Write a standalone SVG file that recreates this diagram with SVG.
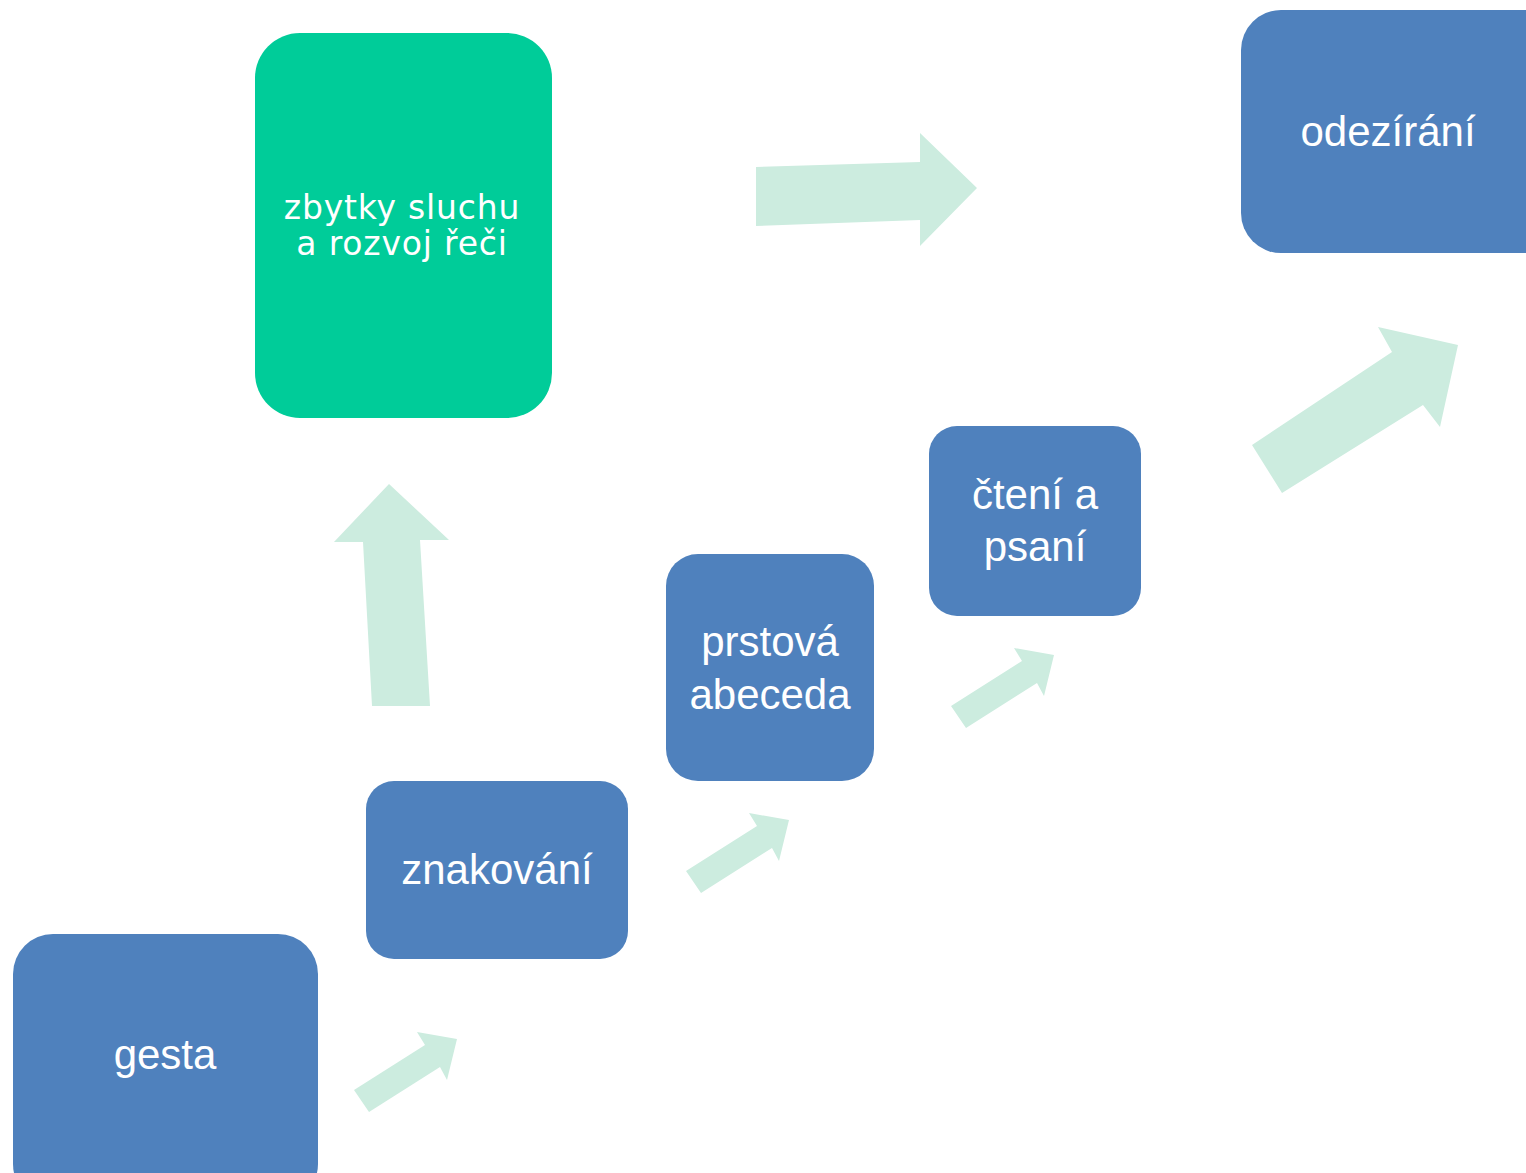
<svg xmlns="http://www.w3.org/2000/svg" width="1526" height="1173" viewBox="0 0 1526 1173">
<style>
.box{fill:#4F81BD}
.green{fill:#00CC99}
.arr{fill:#CCECDF}
.t{font-family:"Liberation Sans",Arial,sans-serif;font-size:42px;fill:#FFFFFF;text-anchor:middle}
.tg{font-family:"DejaVu Sans",Verdana,sans-serif;font-size:33px;letter-spacing:0.8px;fill:#FFFFFF;text-anchor:middle}
</style>
<rect width="1526" height="1173" fill="#FFFFFF"/>
<g id="connectors">
<polygon class="arr" points="756,167 920,162 920,133 977,188 920,246 920,220 756,226"/>
<polygon class="arr" points="372,706 430,706 420,540 449,540 389,484 334,542 363,542"/>
<polygon class="arr" points="1252,445 1392,352 1378,327 1458,345 1440,427 1423,405 1282,493"/>
<polygon class="arr" points="354,1090 425,1045 417,1032 457,1039 447,1080 440,1067 369,1112"/>
<polygon class="arr" points="686,871 757,826 749,813 789,820 779,861 772,848 701,893"/>
<polygon class="arr" points="951,706 1022,661 1014,648 1054,655 1044,696 1037,683 966,728"/>
</g>
<g id="node-gesta">
<rect class="box" x="13" y="934" width="305" height="270" rx="40"/>
<text class="t" x="165" y="1069">gesta</text>
</g>
<g id="node-znakovani">
<rect class="box" x="366" y="781" width="262" height="178" rx="28"/>
<text class="t" x="497" y="884">znakování</text>
</g>
<g id="node-prstova">
<rect class="box" x="666" y="554" width="208" height="227" rx="32"/>
<text class="t" x="770" y="656">prstová</text>
<text class="t" x="770" y="709">abeceda</text>
</g>
<g id="node-cteni">
<rect class="box" x="929" y="426" width="212" height="190" rx="28"/>
<text class="t" x="1035" y="509">čtení a</text>
<text class="t" x="1035" y="561">psaní</text>
</g>
<g id="node-odezirani">
<rect class="box" x="1241" y="10" width="330" height="243" rx="40"/>
<text class="t" x="1388" y="146">odezírání</text>
</g>
<g id="node-zbytky">
<rect class="green" x="255" y="33" width="297" height="385" rx="45"/>
<text class="tg" x="402" y="219">zbytky sluchu</text>
<text class="tg" x="402" y="255">a rozvoj řeči</text>
</g>
</svg>
